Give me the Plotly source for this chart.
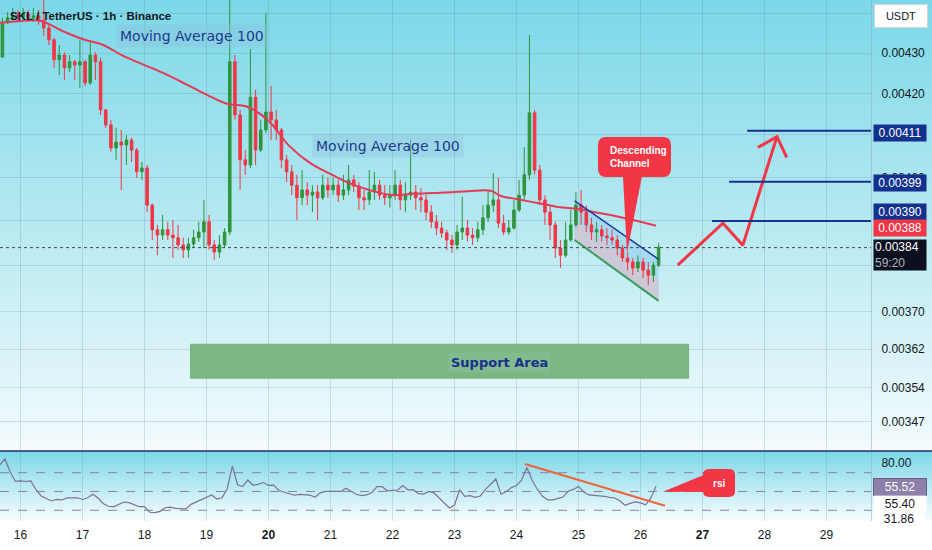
import base64
import numpy as np
import pandas as pd
import plotly.graph_objects as go

first_open = 0.004290
close = [
    0.004378, 0.004389, 0.004396, 0.004391, 0.004399, 0.004389, 0.004394, 0.004383,
    0.004363, 0.004333, 0.004283, 0.004295, 0.004263, 0.004278, 0.004270, 0.004278,
    0.004226, 0.004295, 0.004278, 0.004160, 0.004124, 0.004069, 0.004083, 0.004076,
    0.004088, 0.004064, 0.004013, 0.004022, 0.003936, 0.003880, 0.003868, 0.003880,
    0.003868, 0.003862, 0.003846, 0.003835, 0.003848, 0.003862, 0.003875, 0.003898,
    0.003846, 0.003830, 0.003846, 0.003875, 0.004278, 0.004148, 0.004041, 0.004029,
    0.004191, 0.004064, 0.004112, 0.004155, 0.004136, 0.004112, 0.004041, 0.004013,
    0.003982, 0.003953, 0.003971, 0.003959, 0.003966, 0.003953, 0.003982, 0.003971,
    0.003982, 0.003959, 0.003971, 0.003994, 0.003980, 0.003953, 0.003948, 0.003966,
    0.003982, 0.003959, 0.003953, 0.003959, 0.003982, 0.003948, 0.003959, 0.003966,
    0.003953, 0.003948, 0.003920, 0.003898, 0.003884, 0.003873, 0.003857, 0.003846,
    0.003875, 0.003884, 0.003868, 0.003862, 0.003880, 0.003907, 0.003936, 0.003948,
    0.003895, 0.003875, 0.003884, 0.003925, 0.003959, 0.004006, 0.004153, 0.004017,
    0.003948, 0.003920, 0.003891, 0.003839, 0.003823, 0.003857, 0.003891, 0.003936,
    0.003920, 0.003891, 0.003875, 0.003880, 0.003866, 0.003862, 0.003857, 0.003839,
    0.003817, 0.003808, 0.003795, 0.003808, 0.003790, 0.003779, 0.003801, 0.003841,
]
high = [
    0.004389, 0.004404, 0.004414, 0.004409, 0.004414, 0.004409, 0.004414, 0.004409,
    0.004435, 0.004371, 0.004338, 0.004320, 0.004302, 0.004295, 0.004283, 0.004333,
    0.004283, 0.004328, 0.004302, 0.004288, 0.004162, 0.004136, 0.004117, 0.004112,
    0.004100, 0.004093, 0.004069, 0.004036, 0.004029, 0.003940, 0.003891, 0.003914,
    0.003898, 0.003902, 0.003891, 0.003862, 0.003862, 0.003880, 0.003898, 0.003948,
    0.003914, 0.003857, 0.003868, 0.003884, 0.004435, 0.004295, 0.004160, 0.004064,
    0.004310, 0.004209, 0.004136, 0.004401, 0.004218, 0.004160, 0.004117, 0.004052,
    0.004029, 0.004006, 0.004017, 0.003989, 0.003982, 0.003982, 0.004006, 0.003999,
    0.003999, 0.003994, 0.004006, 0.004029, 0.004006, 0.003989, 0.003971, 0.004017,
    0.004013, 0.003994, 0.003982, 0.003982, 0.004017, 0.003994, 0.003989, 0.004088,
    0.003982, 0.003975, 0.003959, 0.003936, 0.003914, 0.003898, 0.003880, 0.003868,
    0.003891, 0.003955, 0.003902, 0.003884, 0.003898, 0.003936, 0.003971, 0.004010,
    0.003999, 0.003914, 0.003902, 0.003948, 0.003994, 0.004071, 0.004345, 0.004160,
    0.004029, 0.003959, 0.003936, 0.003898, 0.003857, 0.003898, 0.003925, 0.003966,
    0.003971, 0.003936, 0.003907, 0.003898, 0.003891, 0.003884, 0.003880, 0.003868,
    0.003846, 0.003830, 0.003817, 0.003823, 0.003817, 0.003808, 0.003808, 0.003850,
]
low = [
    0.004288, 0.004373, 0.004383, 0.004378, 0.004383, 0.004378, 0.004378, 0.004371,
    0.004343, 0.004320, 0.004263, 0.004245, 0.004233, 0.004253, 0.004233, 0.004213,
    0.004218, 0.004221, 0.004233, 0.004148, 0.004117, 0.004060, 0.004041, 0.003971,
    0.004029, 0.004036, 0.003999, 0.003994, 0.003920, 0.003857, 0.003823, 0.003857,
    0.003857, 0.003817, 0.003835, 0.003817, 0.003817, 0.003839, 0.003853, 0.003839,
    0.003835, 0.003812, 0.003817, 0.003839, 0.003868, 0.004136, 0.003971, 0.004006,
    0.004022, 0.004029, 0.004060, 0.004105, 0.004088, 0.004088, 0.004022, 0.003989,
    0.003959, 0.003902, 0.003936, 0.003936, 0.003920, 0.003902, 0.003948, 0.003953,
    0.003959, 0.003943, 0.003948, 0.003959, 0.003966, 0.003925, 0.003925, 0.003936,
    0.003948, 0.003948, 0.003936, 0.003930, 0.003948, 0.003925, 0.003920, 0.003948,
    0.003925, 0.003920, 0.003902, 0.003884, 0.003868, 0.003862, 0.003835, 0.003828,
    0.003835, 0.003857, 0.003853, 0.003846, 0.003853, 0.003868, 0.003898, 0.003920,
    0.003884, 0.003868, 0.003868, 0.003880, 0.003920, 0.003948, 0.003994, 0.004006,
    0.003936, 0.003891, 0.003857, 0.003817, 0.003795, 0.003818, 0.003853, 0.003886,
    0.003891, 0.003875, 0.003857, 0.003853, 0.003853, 0.003846, 0.003846, 0.003823,
    0.003808, 0.003790, 0.003779, 0.003786, 0.003773, 0.003757, 0.003764, 0.003797,
]

# moving average 100, read at a few bar positions
ma_step = [0, 4, 8, 12, 16, 20, 24, 28, 32, 36, 40, 44, 48, 52, 56, 60, 64, 68,
           72, 76, 80, 84, 88, 92, 95, 97, 100, 104, 108, 112, 116, 120, 124, 127]
ma_val = [0.004376, 0.004381, 0.004381, 0.004356, 0.004335, 0.004320, 0.004292,
          0.004270, 0.004248, 0.004223, 0.004197, 0.004175, 0.004167, 0.004134,
          0.004074, 0.004034, 0.004008, 0.003985, 0.003969, 0.003959, 0.003962,
          0.003964, 0.003966, 0.003969, 0.003969, 0.003957, 0.003950, 0.003941,
          0.003932, 0.003927, 0.003918, 0.003909, 0.003898, 0.003889]

rsi = [
    78.2, 84.6, 70.7, 60.9, 61.2, 60.6, 61.2, 51.9,
    45.2, 42.8, 39.9, 41.5, 41.0, 43.1, 42.8, 43.3,
    41.5, 43.3, 47.0, 43.1, 37.3, 34.3, 33.7, 36.2,
    38.8, 38.2, 36.0, 33.8, 33.8, 27.9, 27.6, 28.9,
    32.7, 33.3, 32.1, 31.7, 31.4, 36.3, 38.8, 42.0,
    44.1, 46.3, 42.0, 43.3, 52.7, 77.1, 57.2, 55.2,
    62.2, 56.6, 57.6, 59.5, 56.4, 56.7, 51.1, 49.3,
    47.3, 46.0, 47.0, 46.8, 46.2, 43.8, 48.6, 50.1,
    50.0, 49.6, 50.1, 53.4, 50.2, 47.0, 45.7, 46.3,
    48.8, 55.3, 55.1, 50.7, 51.2, 51.6, 56.4, 51.8,
    52.0, 47.7, 47.3, 50.0, 48.6, 43.1, 37.8, 32.4,
    35.6, 51.8, 44.7, 45.5, 43.7, 45.2, 52.3, 58.3,
    63.3, 47.1, 49.9, 54.1, 56.4, 62.4, 75.5, 62.2,
    52.7, 45.2, 41.0, 41.0, 42.6, 44.1, 50.2, 52.2,
    55.4, 49.5, 46.3, 46.1, 45.2, 44.9, 43.7, 43.1,
    40.1, 35.4, 37.4, 39.0, 37.8, 35.9, 43.1, 55.52,
]
rsi_bands = [70, 50, 30]
rsi_trend_time = ["2025-06-24 03:18", "2025-06-26 09:30"]
rsi_trend_val = [79.3, 34.9]

# drawings
levels = [0.00411, 0.00399, 0.00390]
level_start = ["2025-06-27 17:18", "2025-06-27 10:18", "2025-06-27 03:42"]
ma_last = 0.00388
last_price = 0.00384

channel_time = ["2025-06-24 22:30", "2025-06-26 07:00"]
channel_top = [0.003946, 0.003814]
channel_mid = [0.003901, 0.003768]
channel_bot = [0.003857, 0.003723]

support_time = ["2025-06-18 17:36", "2025-06-26 18:48"]
support_price = [0.003558, 0.003631]

arrow_time = ["2025-06-26 14:24", "2025-06-27 07:54", "2025-06-27 15:36", "2025-06-28 04:48"]
arrow_price = [0.003801, 0.003895, 0.003845, 0.004096]
head_time = ["2025-06-27 21:24", "2025-06-28 04:48", "2025-06-28 08:36"]
head_price = [0.004070, 0.004096, 0.004047]

price_ticks = [0.0044, 0.0043, 0.0042, 0.0041, 0.0040, 0.0039, 0.0038, 0.0037,
               0.00362, 0.00354, 0.00347]
days = list(range(16, 30))
bold_days = [20, 27]

x_start, x_end = "2025-06-15 16:04", "2025-06-29 17:13"

GREEN = "#2f943b"
RED = "#f23645"
NAVY = "#13318f"
GRID = "rgba(90,125,145,0.22)"

t0 = pd.Timestamp("2025-06-15 16:00")
n = len(close)
bar_time = t0 + pd.to_timedelta(np.arange(n) * 2 + 1, unit="h")
rsi_time = t0 + pd.to_timedelta(np.arange(len(rsi)) * 2, unit="h")
ma_time = t0 + pd.to_timedelta(np.array(ma_step) * 2, unit="h")
open_ = [first_open] + close[:-1]

W, H = 932, 550
PW, PH = 871, 521  # plot area in pixels


def paper(px, py):
    return px / PW, (PH - py) / PH


def ppath(cmds):
    out = []
    for c in cmds:
        if c[0] == "Z":
            out.append("Z")
            continue
        pts = c[1:]
        pairs = []
        for k in range(0, len(pts), 2):
            x, y = paper(pts[k], pts[k + 1])
            pairs.append(f"{x:.5f},{y:.5f}")
        out.append(c[0] + " ".join(pairs))
    return " ".join(out)


def rounded(x0, y0, x1, y1, r):
    return ppath([("M", x0 + r, y0), ("L", x1 - r, y0), ("Q", x1, y0, x1, y0 + r),
                  ("L", x1, y1 - r), ("Q", x1, y1, x1 - r, y1), ("L", x0 + r, y1),
                  ("Q", x0, y1, x0, y1 - r), ("L", x0, y0 + r), ("Q", x0, y0, x0 + r, y0),
                  ("Z",)])


def data_path(ts, ps):
    # shape path in data coords; dates need "_" instead of a space
    pts = [f"{t.replace(' ', '_')},{p}" for t, p in zip(ts, ps)]
    return "M" + " L".join(pts) + " Z"


fig = go.Figure()

fig.add_trace(go.Scatter(
    x=[support_time[0], support_time[1], support_time[1], support_time[0], support_time[0]],
    y=[support_price[0], support_price[0], support_price[1], support_price[1], support_price[0]],
    mode="lines", fill="toself", fillcolor="#7bb683", line=dict(width=0), hoverinfo="skip"))

fig.add_trace(go.Candlestick(
    x=bar_time, open=open_, high=high, low=low, close=close,
    increasing=dict(line=dict(color=GREEN, width=1), fillcolor=GREEN),
    decreasing=dict(line=dict(color=RED, width=1), fillcolor=RED),
    whiskerwidth=0, hoverinfo="skip"))

fig.add_trace(go.Scatter(x=ma_time, y=ma_val, mode="lines",
                         line=dict(color="#e33b56", width=2, shape="spline"), hoverinfo="skip"))

ct = channel_time
fig.add_trace(go.Scatter(x=ct, y=channel_top, mode="lines",
                         line=dict(color="#1a3aa0", width=1.5), hoverinfo="skip"))
fig.add_trace(go.Scatter(x=ct, y=channel_bot, mode="lines",
                         line=dict(color="#3c9a5c", width=2), hoverinfo="skip"))

fig.add_trace(go.Scatter(x=arrow_time, y=arrow_price, mode="lines",
                         line=dict(color=RED, width=3), hoverinfo="skip"))
fig.add_trace(go.Scatter(x=head_time, y=head_price, mode="lines",
                         line=dict(color=RED, width=3), hoverinfo="skip"))

for lv, st in zip(levels, level_start):
    fig.add_trace(go.Scatter(x=[st, x_end], y=[lv, lv], mode="lines",
                             line=dict(color=NAVY, width=2), hoverinfo="skip"))

fig.add_trace(go.Scatter(x=[x_start, x_end], y=[last_price, last_price], mode="lines",
                         line=dict(color="#444a55", width=1, dash="dot"), hoverinfo="skip"))

fig.add_trace(go.Scatter(x=rsi_time, y=rsi, yaxis="y2", mode="lines",
                         line=dict(color="#7e7193", width=1.2), hoverinfo="skip"))
fig.add_trace(go.Scatter(x=rsi_trend_time, y=rsi_trend_val, yaxis="y2", mode="lines",
                         line=dict(color="#f0643a", width=2), hoverinfo="skip"))

# background gradients
svg = (
    f"<svg xmlns='http://www.w3.org/2000/svg' width='{W}' height='{H}' viewBox='0 0 {W} {H}' preserveAspectRatio='none'>"
    "<defs>"
    "<linearGradient id='a' x1='0' y1='0' x2='0' y2='1'>"
    "<stop offset='0' stop-color='#7bd8e8'/><stop offset='0.5' stop-color='#b7e9f1'/>"
    "<stop offset='1' stop-color='#f3fbfd'/></linearGradient>"
    "<linearGradient id='b' x1='0' y1='0' x2='0' y2='1'>"
    "<stop offset='0' stop-color='#7ad7e7'/><stop offset='1' stop-color='#f8fdfe'/></linearGradient>"
    "</defs>"
    f"<rect x='0' y='0' width='{W}' height='450' fill='url(#a)'/>"
    f"<rect x='0' y='451' width='{W}' height='70' fill='url(#b)'/>"
    f"<rect x='0' y='521' width='{W}' height='29' fill='#ffffff'/>"
    "</svg>"
)
svg_uri = "data:image/svg+xml;base64," + base64.b64encode(svg.encode()).decode()

shapes = []
# channel fills sit between grid and candles
shapes.append(dict(type="path", xref="x", yref="y", layer="between", line=dict(width=0),
                   fillcolor="rgba(150,210,240,0.65)",
                   path=data_path([ct[0], ct[1], ct[1], ct[0]],
                                  [channel_top[0], channel_top[1], channel_mid[1], channel_mid[0]])))
shapes.append(dict(type="path", xref="x", yref="y", layer="between", line=dict(width=0),
                   fillcolor="rgba(204,199,214,0.95)",
                   path=data_path([ct[0], ct[1], ct[1], ct[0]],
                                  [channel_mid[0], channel_mid[1], channel_bot[1], channel_bot[0]])))
sep_y = paper(0, 451)[1]
shapes.append(dict(type="line", xref="paper", yref="paper", x0=0, x1=W / PW, y0=sep_y, y1=sep_y,
                   line=dict(color="#1f2d5c", width=1.5)))
for v in rsi_bands:
    shapes.append(dict(type="line", xref="paper", yref="y2", x0=0, x1=1, y0=v, y1=v,
                       line=dict(color="#8a8598", width=1, dash="dash"), layer="between"))
shapes.append(dict(type="path", xref="paper", yref="paper", path=rounded(598, 137, 671, 177, 8),
                   fillcolor=RED, line=dict(width=0)))
shapes.append(dict(type="path", xref="paper", yref="paper",
                   path=ppath([("M", 623, 176), ("L", 642, 176), ("L", 627, 253), ("Z",)]),
                   fillcolor=RED, line=dict(width=0)))
shapes.append(dict(type="path", xref="paper", yref="paper", path=rounded(703, 469, 735, 497, 6),
                   fillcolor=RED, line=dict(width=0)))
shapes.append(dict(type="path", xref="paper", yref="paper",
                   path=ppath([("M", 663, 491.7), ("L", 706, 474), ("L", 706, 492), ("Z",)]),
                   fillcolor=RED, line=dict(width=0)))

ann = []


def label(px, py, text, **kw):
    x, y = paper(px, py)
    d = dict(x=x, y=y, xref="paper", yref="paper", text=text, showarrow=False,
             xanchor="center", yanchor="middle")
    d.update(kw)
    ann.append(d)


label(8, 16, "<b>SKL / TetherUS · 1h · Binance</b>", xanchor="left",
      font=dict(size=11.5, color="#131722"))
label(874, 16, "USDT", xanchor="left", width=50, height=20, bgcolor="white",
      bordercolor="#cfd6dc", borderwidth=1, font=dict(size=11, color="#131722"))
for px, py in [(192, 36), (388, 146)]:
    label(px, py, "Moving Average 100", bgcolor="rgba(140,190,220,0.35)", borderpad=3,
          font=dict(family="DejaVu Sans", size=14, color="#1b3a8c"))
label(499, 362, "<b>Support Area</b>", bgcolor="rgba(135,190,150,0.6)", borderpad=2,
      font=dict(family="DejaVu Sans", size=13, color="#1a2f8a"))
label(608, 157, "<b>Descending<br>Channel</b>", xanchor="left", align="left",
      font=dict(size=10, color="white"))
label(719, 483, "<b>rsi</b>", font=dict(size=10, color="white"))

for text, py, bg in [(f"{levels[0]:.5f}", 133, NAVY), (f"{levels[1]:.5f}", 183, NAVY),
                     (f"{levels[2]:.5f}", 212, NAVY), (f"{ma_last:.5f}", 228, RED)]:
    label(873, py, text, xanchor="left", width=50, height=14, borderpad=1, bgcolor=bg,
          font=dict(size=12, color="white"))
label(873, 255, f"{last_price:.5f}<br><span style='color:#b2b5be'>59:20</span>", xanchor="left",
      align="left", width=50, height=28, borderpad=1, bgcolor="#0b0f1e",
      font=dict(size=12, color="white"))
label(873, 486.5, f"{rsi[-1]:.2f}", xanchor="left", width=50, height=14, borderpad=1,
      bgcolor="#8e80aa", bordercolor="#6c5d8a", borderwidth=1, font=dict(size=12, color="white"))
label(873, 504, "55.40", xanchor="left", width=50, height=14, borderpad=1, bgcolor="white",
      font=dict(size=12, color="#131722"))
label(873, 519, "31.86", xanchor="left", width=50, height=12, borderpad=0, bgcolor="white",
      font=dict(size=12, color="#131722"))

fig.update_layout(
    width=W, height=H,
    margin=dict(l=0, r=W - PW, t=0, b=H - PH),
    paper_bgcolor="white", plot_bgcolor="rgba(0,0,0,0)",
    showlegend=False, hovermode=False,
    font=dict(family="Liberation Sans", size=12, color="#131722"),
    images=[dict(source=svg_uri, xref="paper", yref="paper", x=0, y=1, sizex=W / PW, sizey=H / PH,
                 xanchor="left", yanchor="top", sizing="stretch", layer="below")],
    shapes=shapes, annotations=ann,
    xaxis=dict(type="date", range=[x_start, x_end], anchor="y2",
               tickvals=[f"2025-06-{d:02d}" for d in days],
               ticktext=[f"<b>{d}</b>" if d in bold_days else str(d) for d in days],
               showgrid=True, gridcolor=GRID, zeroline=False, ticks="", showline=False,
               rangeslider=dict(visible=False), ticklabelstandoff=5,
               tickfont=dict(size=12, color="#131722")),
    yaxis=dict(domain=[(PH - 450) / PH, 1], type="log",
               range=[np.log10(0.0034137), np.log10(0.0044346)],
               side="right", anchor="x", tickvals=price_ticks,
               ticktext=[f"{v:.5f}" for v in price_ticks],
               showgrid=True, gridcolor=GRID, zeroline=False, ticks="",
               showline=True, linecolor="rgba(140,170,185,0.5)", ticklabelstandoff=7,
               tickfont=dict(size=12, color="#131722")),
    yaxis2=dict(domain=[0, (PH - 452) / PH], range=[18.6, 92.0], side="right", anchor="x",
                tickvals=[80], ticktext=["80.00"], showgrid=False, zeroline=False, ticks="",
                showline=True, linecolor="rgba(140,170,185,0.5)", ticklabelstandoff=7,
                tickfont=dict(size=12, color="#131722")),
)

fig.write_html("out.html", config={"displayModeBar": False},
               post_script="document.body.style.margin='0';document.body.style.overflow='hidden';")
